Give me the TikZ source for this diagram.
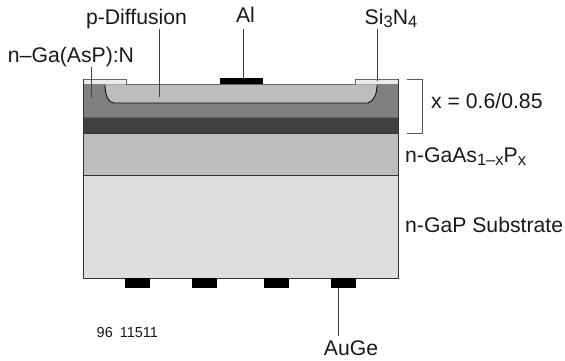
\documentclass[tikz,border=0pt]{standalone}
\usepackage{fontspec}
\setmainfont{Liberation Sans}
\definecolor{cmed}{gray}{0.5}
\definecolor{cdark}{gray}{0.25}
\definecolor{cgray}{gray}{0.74}
\definecolor{clight}{gray}{0.87}
\definecolor{cnit}{gray}{0.92}
\definecolor{cedge}{gray}{0.2}
\newcommand{\subsc}[1]{\raisebox{-3pt}{\fontsize{16.5}{17}\selectfont #1}}
\begin{document}
\begin{tikzpicture}[x=1pt,y=-1pt,
  lbl/.style={font=\fontsize{21.2}{24}\selectfont,inner sep=0pt,text=black!90},
  small/.style={font=\fontsize{14.5}{16}\selectfont,inner sep=0pt,text=black!90},
  edge/.style={draw=cedge,line width=0.8pt},
  leader/.style={draw=black!75,line width=0.8pt},
  metal/.style={fill=black,draw=none}]
\useasboundingbox (0,0) rectangle (565,361);
% layers
\fill[clight] (83,175) rectangle (398,278);
\fill[cgray] (83,133) rectangle (398,175);
\fill[cdark] (83,117) rectangle (398,133);
\fill[cmed] (83,84.5) rectangle (398,117);
% nitride
\filldraw[fill=cnit,edge,draw=black!60] (83,84.5) -- (83,79) -- (126,79) -- (126,84.5);
\filldraw[fill=cnit,edge,draw=black!60] (355.5,84.5) -- (355.5,79) -- (398,79) -- (398,84.5);
% p diffusion
\fill[cgray] (105,84.5) .. controls (105,94) and (108,103) .. (114,103) -- (368,103) .. controls (374,101) and (377,94) .. (377,84.5) -- cycle;
\draw[black,line width=0.8pt] (105,85) .. controls (105,94) and (108,103) .. (114,103) -- (368,103) .. controls (374,101) and (377,94) .. (377,85);
\draw[black!60,line width=0.8pt] (126,84.5) -- (355.5,84.5);
\draw[black!60,line width=0.6pt] (83,117) -- (398,117);
% outlines
\draw[edge] (83,79) -- (83,278) -- (398,278) -- (398,79);
\draw[edge] (83,133) -- (398,133);
\draw[edge] (83,175) -- (398,175);
% metal
\node[metal,minimum width=43pt,minimum height=6pt,inner sep=0pt] (al) at (241,81.5) {};
\node[metal,minimum width=25pt,minimum height=10pt,inner sep=0pt] (c1) at (137.5,283) {};
\node[metal,minimum width=25pt,minimum height=10pt,inner sep=0pt] (c2) at (204.5,283) {};
\node[metal,minimum width=25pt,minimum height=10pt,inner sep=0pt] (c3) at (276.5,283) {};
\node[metal,minimum width=25pt,minimum height=10pt,inner sep=0pt] (c4) at (343.5,283) {};
% labels
\node[lbl,anchor=base] (pd) at (136.5,25) {p-Diffusion};
\node[lbl,anchor=base] (alt) at (245.5,23) {Al};
\node[lbl,anchor=base] (si) at (391,25) {Si\subsc{3}N\subsc{4}};
\node[lbl,anchor=base] (ng) at (71,63) {n–Ga(AsP):N};
\node[lbl,anchor=base west] (xv) at (431,108) {x = 0.6/0.85};
\node[lbl,anchor=base west] (ga) at (405,162) {n-GaAs\subsc{1–x}P\subsc{x}};
\node[lbl,anchor=base west] (sub) at (405,232) {n-GaP Substrate};
\node[small,anchor=base west] (num) at (96.5,337) {96~~\kern-1pt 11511};
\node[lbl,anchor=base] (au) at (351,355) {AuGe};
% leaders
\coordinate (pdend) at (159.5,97);
\coordinate (alend) at (243.5,79);
\coordinate (siend) at (377,81);
\coordinate (ngend) at (91,98);
\coordinate (auend) at (338.5,336);
\draw[leader] (159.5,29) -- (pdend);
\draw[leader] (243.5,29) -- (alend);
\draw[leader] (377,29) -- (siend);
\draw[leader] (91,67) -- (ngend);
\draw[leader] (c4.south -| auend) -- (auend);
% bracket
\coordinate (b1) at (406.5,79);
\coordinate (b2) at (422,79);
\coordinate (b3) at (422,133);
\coordinate (b4) at (406.5,133);
\draw[draw=black!65,line width=0.8pt] (b1) -- (b2) -- (b3) -- (b4);
\end{tikzpicture}
\end{document}
